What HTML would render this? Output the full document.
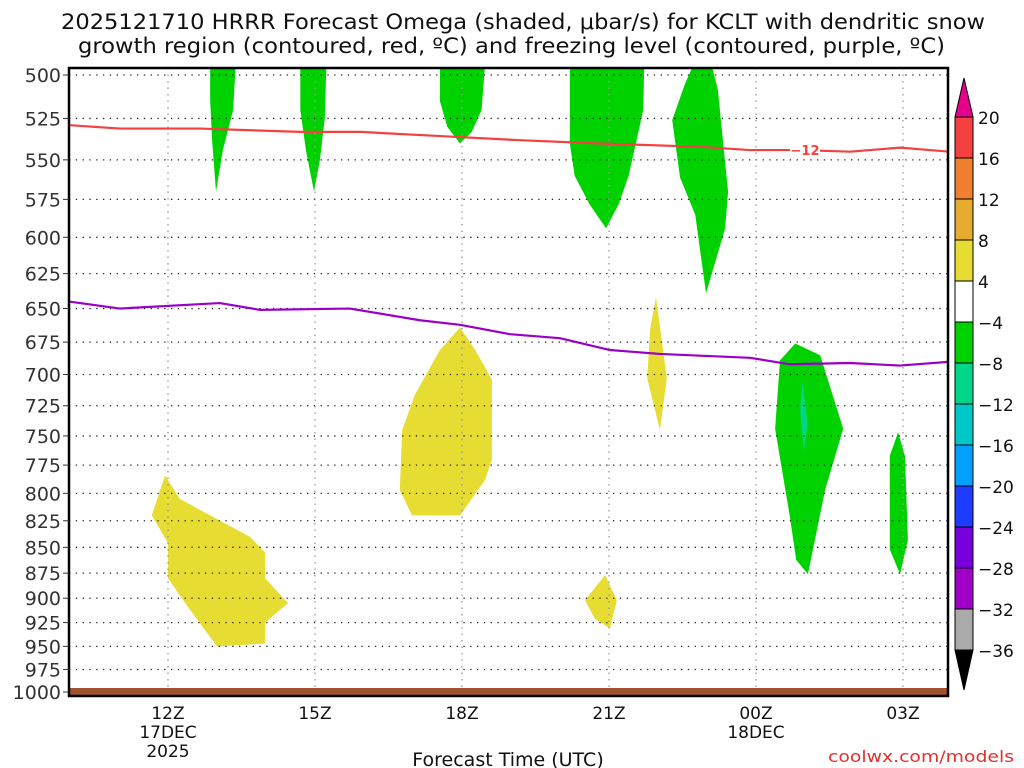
<!DOCTYPE html>
<html><head><meta charset="utf-8"><style>
body{margin:0;background:#fff;}
svg{display:block;font-family:"DejaVu Sans","Liberation Sans",sans-serif;}
</style></head><body>
<svg id="c" width="1024" height="768" xmlns="http://www.w3.org/2000/svg">
<text x="61" y="29" textLength="924" lengthAdjust="spacingAndGlyphs" font-size="21" fill="#111">2025121710 HRRR Forecast Omega (shaded, μbar/s) for KCLT with dendritic snow</text>
<text x="78" y="53" textLength="867" lengthAdjust="spacingAndGlyphs" font-size="21" fill="#111">growth region (contoured, red, ºC) and freezing level (contoured, purple, ºC)</text>
<text x="508" y="766" text-anchor="middle" font-size="19" fill="#111">Forecast Time (UTC)</text>
<text x="828" y="762" textLength="186" lengthAdjust="spacingAndGlyphs" font-size="16" fill="#e03030">coolwx.com/models</text>
</svg>
<script>
const pLevels=[500,525,550,575,600,625,650,675,700,725,750,775,800,825,850,875,900,925,950,975,1000];
const xTicks=[12,15,18,21,24,27];
const xTickLabels=["12Z","15Z","18Z","21Z","00Z","03Z"];
const cbLabels=["20","16","12","8","4","-4","-8","-12","-16","-20","-24","-28","-32","-36"];
const cbColors=["#f44040","#f08030","#e6ac30","#e6dc32","#ffffff","#00d200","#00d68a","#00c8c8","#00a0ff","#1e3cff","#7800dc","#a000c8","#aaaaaa"];
const greenShapes=[
 [[12.86,500],[13.41,500],[13.33,520],[13.12,544],[12.98,570],[12.90,538],[12.86,514]],
 [[14.7,500],[15.25,500],[15.2,525],[15.1,550],[14.98,570],[14.82,545],[14.7,520]],
 [[17.55,500],[18.51,500],[18.4,520],[18.2,533],[17.96,540],[17.7,530],[17.55,515]],
 [[20.2,500],[21.73,500],[21.7,520],[21.4,560],[21.2,578],[20.94,594],[20.6,578],[20.3,560],[20.2,540]],
 [[22.96,500],[23.22,508],[23.43,570],[23.37,594],[22.98,639],[22.76,585],[22.45,561],[22.29,526],[22.55,505]],
 [[24.8,676],[25.31,685],[25.78,744],[25.41,797],[25.06,876],[24.82,862],[24.69,821],[24.39,744],[24.49,689]],
 [[26.9,747],[27.04,767],[27.1,843],[26.94,876],[26.73,852],[26.73,767]]
];
const tealShapes=[[[24.95,705],[25.05,740],[24.98,763],[24.9,730]]];
const yellowShapes=[
 [[11.67,820],[11.94,784],[12.24,805],[12.86,820],[13.67,840],[13.98,855],[13.98,880],[14.45,905],[13.98,925],[13.98,947],[13.0,950],[12.35,905],[12.0,880],[12.0,846]],
 [[17.96,664],[18.27,681],[18.61,704],[18.61,770],[18.47,788],[17.96,820],[16.98,820],[16.73,797],[16.78,745],[17.04,716],[17.55,681]],
 [[21.96,642],[22.18,703],[22.04,745],[21.78,703],[21.84,665]],
 [[20.92,877],[21.16,902],[21.02,931],[20.71,921],[20.51,902]]
];
const redHours=[10,11.02,12.65,14.69,15.92,17.55,19.18,20.82,22.86,23.88,24.9,25.92,26.94,27.96];
const redP=[529,531,531,533,533,535.5,538,540,542,544,544,545,542.5,545];
const purpleHours=[10,11.02,13.06,13.88,15.71,17.14,17.96,18.98,20,21.02,22.04,23.88,24.69,25.92,26.94,27.96];
const purpleP=[645,650,646,651,650,658.6,662,669,672,681,684,687,692,691,693,690];

const svg=document.getElementById('c');const NS='http://www.w3.org/2000/svg';
const L=69,R=948,T=68,B=696;
const X=h=>168+(h-12)*49;
const Y=p=>75+Math.log2(p/500)*617;
function mk(t,a,parent){const e=document.createElementNS(NS,t);for(const k in a)e.setAttribute(k,a[k]);(parent||svg).appendChild(e);return e;}
const defs=mk('defs',{});const cp=mk('clipPath',{id:'clip'},defs);mk('rect',{x:L,y:T,width:R-L,height:B-T},cp);
const plot=mk('g',{'clip-path':'url(#clip)'});


function poly(arr,fill,name){const pts=arr.map(d=>{let p=d[1]<=500?480:d[1];return X(d[0])+','+Y(p);}).join(' ');const e=mk('polygon',{points:pts,fill:fill},plot);

}
yellowShapes.forEach((s,i)=>poly(s,'#e6dc32','upward-omega-region-'+i));
greenShapes.forEach((s,i)=>poly(s,'#00d200','downward-omega-region-'+i));
tealShapes.forEach((s,i)=>poly(s,'#00d68a','strong-omega-region-'+i));
pLevels.forEach(p=>{const g=mk('line',{x1:L,x2:R,y1:Y(p),y2:Y(p),stroke:'#222','stroke-width':1.3,'stroke-dasharray':'1.3,5.5'},plot);

});
xTicks.forEach(h=>{const g=mk('line',{x1:X(h),x2:X(h),y1:T,y2:B,stroke:'#999','stroke-width':1.3,'stroke-dasharray':'1.5,5'},plot);

});
const gr=mk('rect',{x:L,y:688,width:R-L,height:8,fill:'#a0522d'},plot);


function line(hs,ps,col,name){const d=hs.map((h,i)=>(i?'L':'M')+X(h)+','+Y(ps[i])).join('');const e=mk('path',{d:d,fill:'none',stroke:col,'stroke-width':2.2},plot);

}
line(redHours,redP,'#f44040','dgz-minus12-contour');
line(purpleHours,purpleP,'#9a00c8','freezing-level-contour');
const lb=mk('rect',{x:790,y:143,width:30,height:14,fill:'#fff'},plot);


const lt=mk('text',{x:805,y:155,'text-anchor':'middle','font-size':13,'font-weight':'bold',fill:'#f44040'},plot);lt.textContent='−12';


const fr=mk('rect',{x:L,y:T,width:R-L,height:B-T,fill:'none',stroke:'#000','stroke-width':2.5});


pLevels.forEach(p=>{const t=mk('text',{x:61,y:Y(p)+7,'text-anchor':'end','font-size':19,fill:'#333'});t.textContent=p;


mk('line',{x1:63,x2:L,y1:Y(p),y2:Y(p),stroke:'#333','stroke-width':1});});
xTicks.forEach((h,i)=>{const t=mk('text',{x:X(h),y:719,'text-anchor':'middle','font-size':17,fill:'#111'});t.textContent=xTickLabels[i];

});
[[12,'17DEC',738],[12,'2025',757],[24,'18DEC',738]].forEach(a=>{const t=mk('text',{x:X(a[0]),y:a[2],'text-anchor':'middle','font-size':17,fill:'#111'});t.textContent=a[1];

});
const cb=mk('g',{});


const cx0=955,cx1=973,cy0=117,step=41;
mk('polygon',{points:`${cx0},${cy0} ${cx1},${cy0} ${(cx0+cx1)/2},78`,fill:'#e6008a',stroke:'#000','stroke-width':1},cb);
cbColors.forEach((c,i)=>mk('rect',{x:cx0,y:cy0+i*step,width:cx1-cx0,height:step,fill:c,stroke:'#000','stroke-width':1},cb));
const yb=cy0+cbColors.length*step;
mk('polygon',{points:`${cx0},${yb} ${cx1},${yb} ${(cx0+cx1)/2},690`,fill:'#000',stroke:'#000','stroke-width':1},cb);
cbLabels.forEach((l,i)=>{const t=mk('text',{x:978,y:cy0+i*step+7,'font-size':17,fill:'#111'},cb);t.textContent=l.replace('-','−');

});
</script>
</body></html>
